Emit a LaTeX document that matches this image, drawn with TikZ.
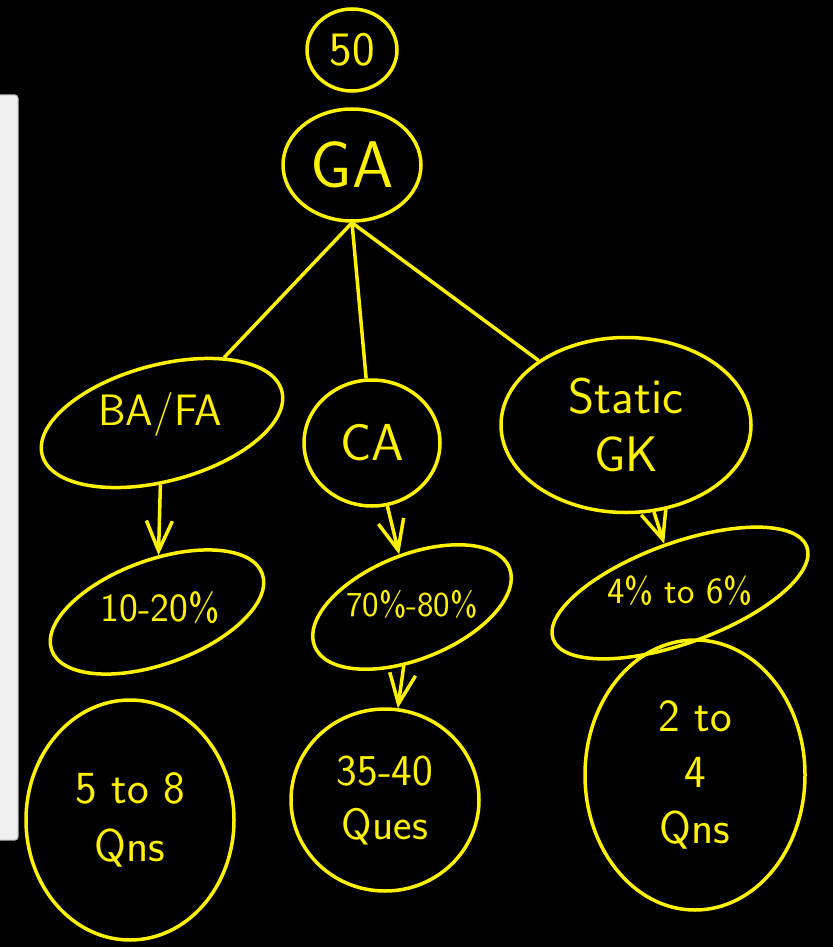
\documentclass[tikz,border=0pt]{standalone}
\usetikzlibrary{shapes.geometric,arrows.meta}

\begin{document}
\begin{tikzpicture}[x=1pt,y=-1pt,
        blob/.style={ellipse,draw=yellow,line width=3.5pt,text=yellow,inner sep=0pt,align=center,font=\sffamily},
        txt/.style={text=yellow,inner sep=0pt,align=center},
        link/.style={draw=yellow,line width=3.5pt},
        arr/.style={link,-{Straight Barb[length=30pt,width=26pt]}}]

        \useasboundingbox (0,0) rectangle (833,947);
        \fill[black] (0,0) rectangle (833,947);
        \filldraw[fill=gray!12,draw=gray!60,line width=1pt,rounded corners=3pt] (-6,95) rectangle (18,840);

        \node[blob,minimum width=90pt,minimum height=82pt,font=\sffamily\fontsize{48}{50}\selectfont]
              (N50)  at (352,50)  {50};
        \node[blob,minimum width=138pt,minimum height=112pt,font=\sffamily\fontsize{66}{66}\selectfont]
              (GA)   at (352,165) {GA};

        % ellipses drawn tilted, texts kept level
        \node[blob,rotate=15,minimum width=248pt,minimum height=116pt] (BAFA) at (162,423) {};
        \node[txt,font=\sffamily\fontsize{44}{46}\selectfont] (tBAFA) at (160,414) {BA/FA};
        \node[blob,minimum width=136pt,minimum height=126pt,font=\sffamily\fontsize{52}{52}\selectfont]
              (CA)   at (372,443) {CA};
        \node[blob,minimum width=250pt,minimum height=175pt,font=\sffamily\fontsize{50}{58}\selectfont]
              (GK)   at (626,425) {Static\\GK};

        \node[blob,rotate=20,minimum width=224pt,minimum height=104pt] (P1) at (157,612) {};
        \node[txt,font=\sffamily\fontsize{40}{44}\selectfont] (tP1) at (160,608) {10-20\%};
        \node[blob,rotate=22,minimum width=210pt,minimum height=104pt] (P2) at (412,607) {};
        \node[txt,font=\sffamily\fontsize{35}{40}\selectfont] (tP2) at (412,604) {70\%-80\%};
        \node[blob,rotate=20,minimum width=270pt,minimum height=100pt] (P3) at (680,593) {};
        \node[txt,font=\sffamily\fontsize{37}{40}\selectfont] (tP3) at (680,591) {4\% to 6\%};

        \node[blob,minimum width=208pt,minimum height=240pt,font=\sffamily\fontsize{46}{58}\selectfont]
              (Q1)   at (130,820) {5 to 8\\Qns};
        \node[blob,minimum width=188pt,minimum height=182pt,font=\sffamily\fontsize{44}{54}\selectfont]
              (Q2)   at (385,800) {35-40\\Ques};
        \node[blob,minimum width=220pt,minimum height=270pt,font=\sffamily\fontsize{46}{56}\selectfont]
              (Q3)   at (695,775) {2 to\\4\\Qns};

        \path[link]
                  (GA.south) edge (BAFA)
                             edge (CA)
                             edge (GK);

        \path[arr]
                  (BAFA) edge (P1)
                  (CA)   edge (P2)
                  (GK)   edge (P3)
                  (P2)   edge (Q2);
      \end{tikzpicture}
\end{document}
